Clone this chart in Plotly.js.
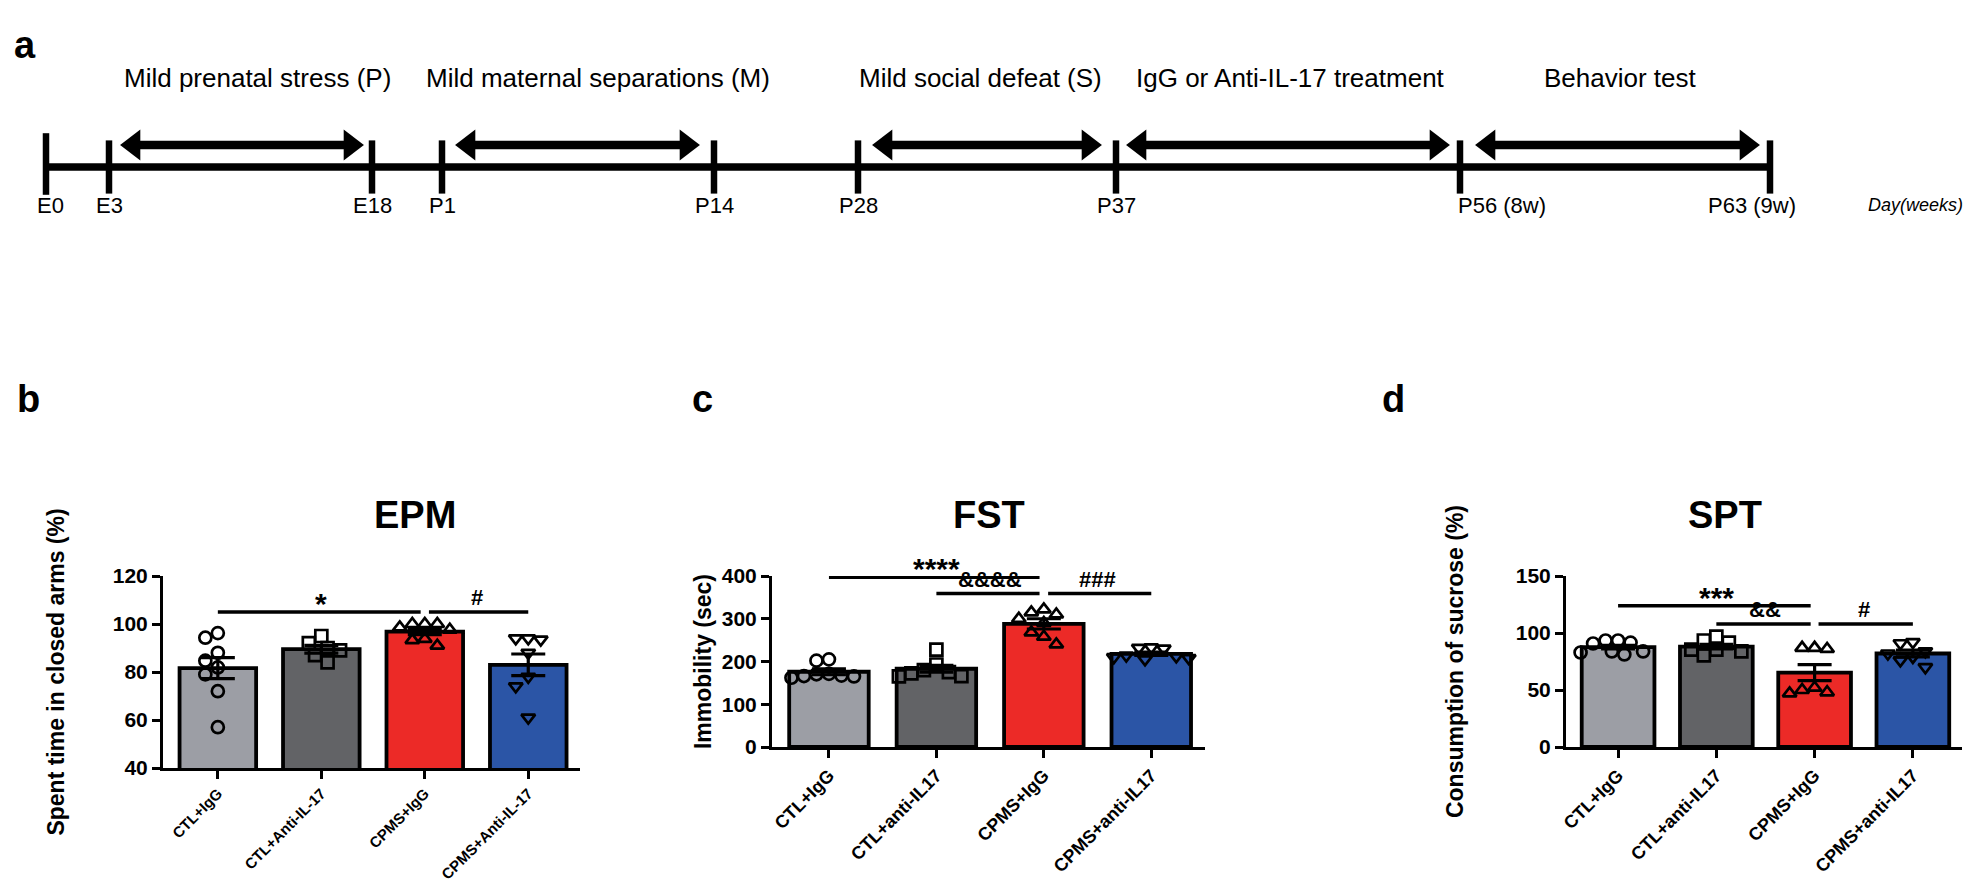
<!DOCTYPE html>
<html><head><meta charset="utf-8">
<script src="https://cdn.plot.ly/plotly-3.0.1.min.js"></script>
<style>html,body{margin:0;padding:0;background:#fff;} #chart{width:1968px;height:884px;}</style>
</head><body><div id="chart"></div>
<script>
// ================= DATA =================
const groupsB  = ['CTL+IgG', 'CTL+Anti-IL-17', 'CPMS+IgG', 'CPMS+Anti-IL-17'];
const groupsCD = ['CTL+IgG', 'CTL+anti-IL17', 'CPMS+IgG', 'CPMS+anti-IL17'];

// EPM (b)
const epmMean = [81.6, 89.5, 96.8, 83.0];
const epmSem  = [4.4, 1.6, 1.2, 4.5];
const epmCtlIgG   = [94.3, 96.2, 88, 84.7, 81.9, 79, 72, 57];
const epmCtlAnti  = [95, 92, 90, 89, 87, 84];
const epmCpmsIgG  = [100, 98.6, 97.6, 100, 100, 93.8, 93.3, 91];
const epmCpmsAnti = [94, 94, 93.5, 88, 78, 74, 61];
const epmSigPairs = [[0, 2], [2, 3]];
const epmSigY     = [105, 105];
const epmSigText  = ['*', '#'];

// FST (c)
const fstMean = [176, 183, 288, 218];
const fstSem  = [7, 8, 12, 4];
const fstCtlIgG   = [205, 202, 171, 166, 162, 165, 167, 170];
const fstCtlAnti  = [228, 193, 180, 172, 165, 166, 175];
const fstCpmsIgG  = [322, 315, 310, 300, 290, 268, 240, 258];
const fstCpmsAnti = [233, 232, 230, 214, 210, 208, 212, 205];
const fstSigPairs = [[0, 2], [1, 2], [2, 3]];
const fstSigY     = [397, 359, 359];
const fstSigText  = ['****', '&&&&', '###'];

// SPT (d)
const sptMean = [87.6, 88.1, 65.3, 82];
const sptSem  = [1.5, 2, 7, 3];
const sptCtlIgG   = [90.8, 93.4, 91.6, 93.4, 83.8, 81.2, 82.9, 83.8];
const sptCtlAnti  = [93.4, 96.9, 91.6, 85.5, 80.3, 83.8, 85.5];
const sptCpmsIgG  = [87, 86, 87, 52, 48, 47, 50];
const sptCpmsAnti = [92, 91, 84, 82, 79, 76, 70];
const sptSigPairs = [[0, 2], [1, 2], [2, 3]];
const sptSigY     = [124, 108, 108];
const sptSigText  = ['***', '&&', '#'];

// Timeline (a) – positions along the schematic timeline
const tlLabels = ['E0', 'E3', 'E18', 'P1', 'P14', 'P28', 'P37', 'P56 (8w)', 'P63 (9w)'];
const tlPos    = [46, 109, 372, 442, 714, 858, 1116, 1460, 1770];
const phaseNames  = ['Mild prenatal stress (P)', 'Mild maternal separations (M)', 'Mild social defeat (S)', 'IgG or Anti-IL-17 treatment', 'Behavior test'];
const phaseStart  = [118, 453, 870, 1124, 1473];
const phaseEnd    = [366, 702, 1104, 1452, 1762];
const phaseLabelX = [257, 598, 980, 1290, 1620];

// ================= LAYOUT / STYLE =================
const W = 1968, H = 884;
const FONT = 'Liberation Sans, Arial, sans-serif';
const barColors = ['#9c9ea5', '#626366', '#ec2a27', '#2b55a6'];
const symbols = ['circle-open', 'square-open', 'triangle-up-open', 'triangle-down-open'];
const XR = [-0.53, 3.5];
const BARW = 0.74;

const panels = [
  {id: '', left: 163, right: 580, top: 576, bottom: 768, range: [40, 120], tickvals: [40, 60, 80, 100, 120],
   cats: groupsB, mean: epmMean, sem: epmSem, pts: [epmCtlIgG, epmCtlAnti, epmCpmsIgG, epmCpmsAnti],
   sigPairs: epmSigPairs, sigY: epmSigY, sigText: epmSigText, title: 'EPM', letter: 'b', letterX: 15,
   ytitle: 'Spent time in closed arms (%)', standoff: 42, xfont: 15},
  {id: '2', left: 772, right: 1205, top: 576, bottom: 747, range: [0, 400], tickvals: [0, 100, 200, 300, 400],
   cats: groupsCD, mean: fstMean, sem: fstSem, pts: [fstCtlIgG, fstCtlAnti, fstCpmsIgG, fstCpmsAnti],
   sigPairs: fstSigPairs, sigY: fstSigY, sigText: fstSigText, title: 'FST', letter: 'c', letterX: 690,
   ytitle: 'Immobility (sec)', standoff: 4, xfont: 18},
  {id: '3', left: 1566, right: 1962, top: 576, bottom: 747, range: [0, 150], tickvals: [0, 50, 100, 150],
   cats: groupsCD, mean: sptMean, sem: sptSem, pts: [sptCtlIgG, sptCtlAnti, sptCpmsIgG, sptCpmsAnti],
   sigPairs: sptSigPairs, sigY: sptSigY, sigText: sptSigText, title: 'SPT', letter: 'd', letterX: 1380,
   ytitle: 'Consumption of sucrose (%)', standoff: 46, xfont: 18}
];

// deterministic beeswarm placement (pixel space)
function swarm(vals, cat, pxY, pxX, diam) {
  const order = vals.map((v, i) => i).sort((a, b) => vals[b] - vals[a]);
  const placed = [];
  const xs = new Array(vals.length);
  for (const i of order) {
    const py = vals[i] * pxY;
    let chosen = 0;
    for (let k = 0; k < 60; k++) {
      const off = k === 0 ? 0 : (k % 2 ? -1 : 1) * Math.ceil(k / 2) * diam * 0.5;
      if (placed.every(p => Math.hypot(p.x - off, p.y - py) >= diam)) { chosen = off; break; }
    }
    placed.push({x: chosen, y: py});
    xs[i] = cat + chosen / pxX;
  }
  return xs;
}

const traces = [];
const layout = {
  width: W, height: H, margin: {l: 0, r: 0, t: 0, b: 0},
  paper_bgcolor: '#ffffff', plot_bgcolor: 'rgba(0,0,0,0)',
  showlegend: false, hovermode: false,
  font: {family: FONT, color: '#000'},
  annotations: [], shapes: []
};

panels.forEach(p => {
  const xa = 'x' + p.id, ya = 'y' + p.id;
  const pxX = (p.right - p.left) / (XR[1] - XR[0]);
  const pxY = (p.bottom - p.top) / (p.range[1] - p.range[0]);
  const cats = [0, 1, 2, 3];
  traces.push({type: 'bar', x: cats, y: p.mean, width: BARW, xaxis: xa, yaxis: ya,
    marker: {color: barColors, line: {color: '#000', width: 3.8}}});
  p.pts.forEach((vals, g) => {
    traces.push({type: 'scatter', mode: 'markers', xaxis: xa, yaxis: ya,
      x: swarm(vals, g, pxY, pxX, 12.5), y: vals, cliponaxis: false,
      marker: {symbol: symbols[g], size: 12, opacity: 1, color: '#000', line: {color: '#000', width: 2.7}}});
  });
  traces.push({type: 'scatter', mode: 'markers', xaxis: xa, yaxis: ya, x: cats, y: p.mean,
    marker: {size: 1, color: 'rgba(0,0,0,0)'},
    error_y: {type: 'data', array: p.sem, visible: true, color: '#000', thickness: 3.2, width: 17}});
  p.sigPairs.forEach((pr, k) => {
    const x0 = pr[0] + (pr[0] === 2 ? 0.04 : 0);
    const x1 = pr[1] - (pr[1] === 2 ? 0.04 : 0);
    traces.push({type: 'scatter', mode: 'lines', xaxis: xa, yaxis: ya, x: [x0, x1], y: [p.sigY[k], p.sigY[k]],
      cliponaxis: false, line: {color: '#000', width: 3.5}});
    const isAst = /^\*+$/.test(p.sigText[k]);
    layout.annotations.push({xref: xa, yref: ya, x: (pr[0] + pr[1]) / 2, y: p.sigY[k], text: p.sigText[k],
      showarrow: false, yanchor: 'bottom', yshift: isAst ? -10 : 0,
      font: {family: FONT, size: isAst ? 30 : 22, weight: 'bold', color: '#000'}});
  });
  layout['xaxis' + p.id] = {domain: [p.left / W, p.right / W], range: XR, anchor: ya, showline: true, linecolor: '#000', linewidth: 3,
    ticks: 'outside', ticklen: 8, tickwidth: 3, tickcolor: '#000', tickvals: cats, ticktext: p.cats, tickangle: -45,
    tickfont: {family: FONT, size: p.xfont, weight: 'bold', color: '#000'}, showgrid: false, zeroline: false, fixedrange: true};
  layout['yaxis' + p.id] = {domain: [1 - p.bottom / H, 1 - p.top / H], range: p.range, anchor: xa, showline: true, linecolor: '#000', linewidth: 3,
    ticks: 'outside', ticklen: 8, tickwidth: 3, tickcolor: '#000', tickvals: p.tickvals,
    tickfont: {family: FONT, size: 21, weight: 'bold', color: '#000'}, showgrid: false, zeroline: false,
    title: {text: p.ytitle, standoff: p.standoff, font: {family: FONT, size: 23, weight: 'bold', color: '#000'}}};
  layout.annotations.push({xref: 'paper', yref: 'paper', x: (p.left + p.right) / 2 / W, y: 1 - 515 / H,
    text: p.title, showarrow: false, font: {family: FONT, size: 38, weight: 'bold', color: '#000'}});
  layout.annotations.push({xref: 'paper', yref: 'paper', x: p.letterX / W, y: 1 - 399 / H, xanchor: 'left',
    text: p.letter, showarrow: false, font: {family: FONT, size: 38, weight: 'bold', color: '#000'}});
});

// ---------- timeline (panel a) ----------
const TLH = 260, LINE_Y = 167, ARROW_Y = 145, TEXT_Y = 78, LABEL_Y = 205, HS = 27;
layout.xaxis4 = {domain: [0, 1], range: [0, W], anchor: 'y4', visible: false, fixedrange: true};
layout.yaxis4 = {domain: [1 - TLH / H, 1], range: [TLH, 0], anchor: 'x4', visible: false, fixedrange: true};
traces.push({type: 'scatter', mode: 'lines', xaxis: 'x4', yaxis: 'y4', x: [tlPos[0], tlPos[tlPos.length - 1]],
  y: [LINE_Y, LINE_Y], line: {color: '#000', width: 7.5}});
traces.push({type: 'scatter', mode: 'markers', xaxis: 'x4', yaxis: 'y4', x: tlPos,
  y: tlPos.map((v, i) => i === 0 ? LINE_Y - 3 : LINE_Y),
  marker: {symbol: 'line-ns', size: tlPos.map((v, i) => i === 0 ? 44 : 38), opacity: 1, color: '#000',
           line: {color: '#000', width: 6.5}}});
phaseNames.forEach((nm, i) => {
  const s = phaseStart[i], e = phaseEnd[i];
  traces.push({type: 'scatter', mode: 'lines+markers', xaxis: 'x4', yaxis: 'y4',
    x: [s + 0.577 * HS, e - 0.577 * HS], y: [ARROW_Y, ARROW_Y], line: {color: '#000', width: 8.5},
    marker: {symbol: ['triangle-left', 'triangle-right'], size: HS, opacity: 1, color: '#000'}});
  layout.annotations.push({xref: 'x4', yref: 'y4', x: phaseLabelX[i], y: TEXT_Y, text: nm, showarrow: false,
    font: {family: FONT, size: 26, color: '#000'}});
});
tlLabels.forEach((lb, i) => {
  layout.annotations.push({xref: 'x4', yref: 'y4', x: tlPos[i], y: LABEL_Y, text: lb, showarrow: false,
    xanchor: i === 7 ? 'left' : 'center', xshift: i === 7 ? -4 : (i === 8 ? -18 : (i === 0 ? 4 : 0)),
    font: {family: FONT, size: 22, color: '#000'}});
});
layout.annotations.push({xref: 'x4', yref: 'y4', x: 1866, y: LABEL_Y, text: '<i>Day(weeks)</i>', showarrow: false,
  xanchor: 'left', font: {family: FONT, size: 18, color: '#000'}});
layout.annotations.push({xref: 'paper', yref: 'paper', x: 12 / W, y: 1 - 22 / H, xanchor: 'left', text: 'a',
  showarrow: false, font: {family: FONT, size: 38, weight: 'bold', color: '#000'}});

Plotly.newPlot('chart', traces, layout, {staticPlot: true, displayModeBar: false});
</script>
</body></html>
